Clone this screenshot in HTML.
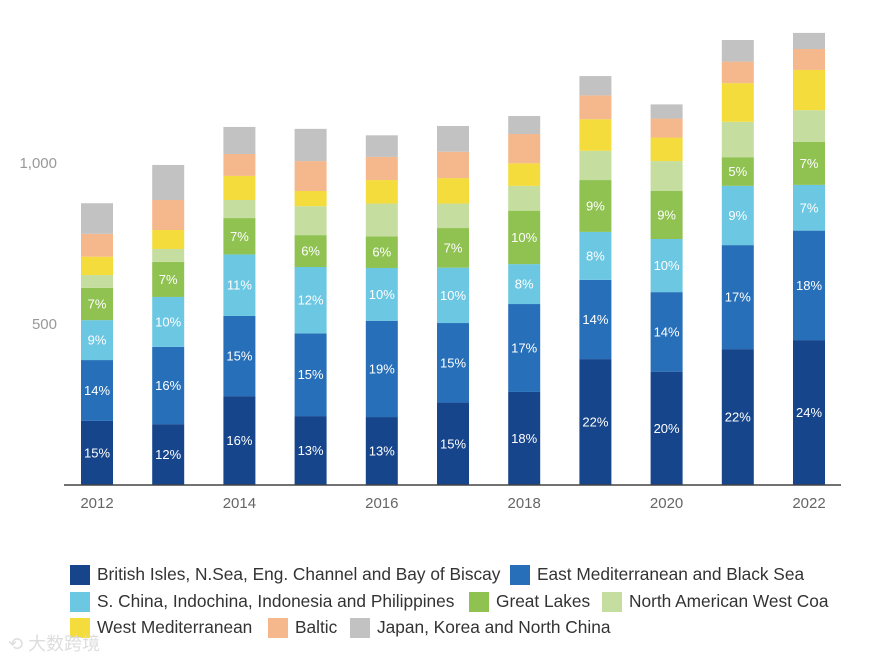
<!DOCTYPE html>
<html><head><meta charset="utf-8"><style>
body{margin:0;background:#fff;width:878px;height:660px;overflow:hidden;font-family:"Liberation Sans","Noto Sans CJK SC",sans-serif}
.leg{position:absolute;font-size:17.3px;color:#333;display:flex;align-items:center;white-space:nowrap}
.sw{width:20px;height:20px;margin-right:7px;display:inline-block}
</style></head><body>
<svg id="chart" width="878" height="540" style="position:absolute;left:0;top:0"></svg>
<div>
<div class="leg" style="left:70px;top:564px"><span class="sw" style="background:#16458c"></span>British Isles, N.Sea, Eng. Channel and Bay of Biscay</div>
<div class="leg" style="left:510px;top:564px"><span class="sw" style="background:#2770b9"></span>East Mediterranean and Black Sea</div>
<div class="leg" style="left:70px;top:591px"><span class="sw" style="background:#6cc7e2"></span>S. China, Indochina, Indonesia and Philippines</div>
<div class="leg" style="left:469px;top:591px"><span class="sw" style="background:#8fc251"></span>Great Lakes</div>
<div class="leg" style="left:602px;top:591px"><span class="sw" style="background:#c5dea0"></span>North American West Coa</div>
<div class="leg" style="left:70px;top:617px"><span class="sw" style="background:#f3dc3b"></span>West Mediterranean</div>
<div class="leg" style="left:268px;top:617px"><span class="sw" style="background:#f5b78c"></span>Baltic</div>
<div class="leg" style="left:350px;top:617px"><span class="sw" style="background:#c2c2c2"></span>Japan, Korea and North China</div>
</div>
<div style="position:absolute;left:8px;top:630px;font-size:18px;color:#ddd">⟲ 大数跨境</div>
<script>
const years=[2012,2013,2014,2015,2016,2017,2018,2019,2020,2021,2022];
const britishIsles=[199,189,276,214,211,256,289,391,352,422,450];
const eastMed=[189,240,249,257,299,247,273,246,247,323,340];
const sChina=[124,155,191,206,164,172,124,149,165,184,142];
const greatLakes=[100,109,113,99,98,123,166,161,149,89,134];
const naWestCoast=[40,40,56,90,102,76,77,91,93,110,98];
const westMed=[57,59,75,47,73,79,70,98,73,120,125];
const baltic=[71,93,68,93,72,82,91,74,59,67,65];
const japanKorea=[95,109,84,100,67,80,56,60,44,67,50];
const labBritish=["15%","12%","16%","13%","13%","15%","18%","22%","20%","22%","24%"];
const labEastMed=["14%","16%","15%","15%","19%","15%","17%","14%","14%","17%","18%"];
const labSChina=["9%","10%","11%","12%","10%","10%","8%","8%","10%","9%","7%"];
const labGreatLakes=["7%","7%","7%","6%","6%","7%","10%","9%","9%","5%","7%"];
const yTicks=[500,1000];
const xTickYears=[2012,2014,2016,2018,2020,2022];

const series=[britishIsles,eastMed,sChina,greatLakes,naWestCoast,westMed,baltic,japanKorea];
const names=["british-isles","east-med","s-china","great-lakes","na-west-coast","west-med","baltic","japan-korea"];
const colors=["#16458c","#2770b9","#6cc7e2","#8fc251","#c5dea0","#f3dc3b","#f5b78c","#c2c2c2"];
const labels=[labBritish,labEastMed,labSChina,labGreatLakes,null,null,null,null];
const svg=document.getElementById('chart');
const NS="http://www.w3.org/2000/svg";
const y0=485,k=0.322;
const yScale=v=>y0-v*k;
const xScale=i=>97+i*71.2;
const bw=32;
function mk(t,a){const e=document.createElementNS(NS,t);for(const p in a)e.setAttribute(p,a[p]);svg.appendChild(e);return e;}
yTicks.forEach(v=>{const t=mk('text',{x:57,y:yScale(v)+5,'text-anchor':'end','font-size':15,fill:'#999'});t.textContent=v.toLocaleString('en-US');

});
years.forEach((yr,i)=>{let cum=0;series.forEach((s,j)=>{const v=s[i];const top=yScale(cum+v),bot=yScale(cum);
const r=mk('rect',{x:xScale(i)-bw/2,y:top,width:bw,height:bot-top,fill:colors[j]});


if(labels[j]){const t=mk('text',{x:xScale(i),y:(top+bot)/2+4.5,'text-anchor':'middle','font-size':13,fill:'#fff'});t.textContent=labels[j][i];

}
cum+=v;});});
const ax=mk('line',{x1:64,x2:841,y1:y0,y2:y0,stroke:'#444','stroke-width':1.5});


xTickYears.forEach(yr=>{const i=years.indexOf(yr);const t=mk('text',{x:xScale(i),y:508,'text-anchor':'middle','font-size':15,fill:'#666'});t.textContent=yr;

});
</script>
</body></html>
